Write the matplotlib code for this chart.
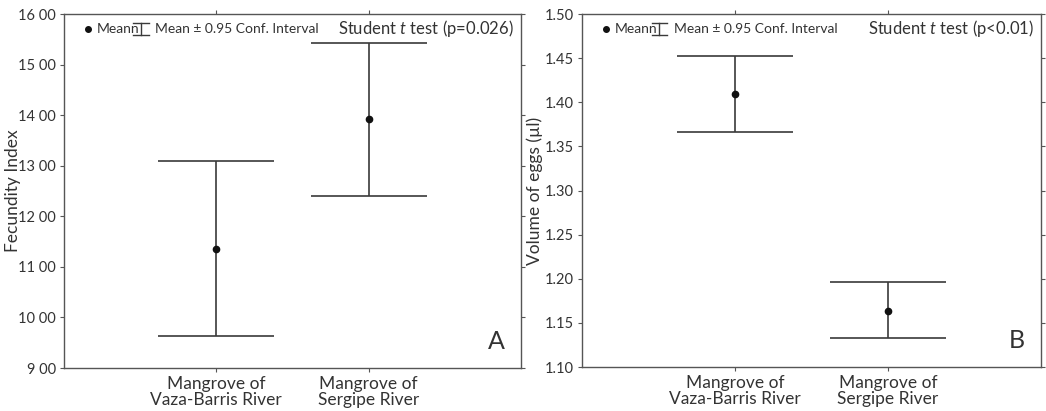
import numpy as np
import matplotlib
matplotlib.use("Agg")
import matplotlib.pyplot as plt

plt.rcParams['font.family'] = ['Lato', 'DejaVu Sans']
plt.rcParams['mathtext.fontset'] = 'custom'
plt.rcParams['mathtext.rm'] = 'Lato'
plt.rcParams['mathtext.it'] = 'Lato:italic'

categories = ['Mangrove of\nVaza-Barris River', 'Mangrove of\nSergipe River']

# panel A: fecundity index
fec_mean = [11.35, 13.92]
fec_upper = [13.09, 15.43]
fec_lower = [9.63, 12.40]
fec_ticks = [9, 10, 11, 12, 13, 14, 15, 16]
fec_ticklabels = ['9 00', '10 00', '11 00', '12 00', '13 00', '14 00', '15 00', '16 00']

# panel B: egg volume
vol_mean = [1.409, 1.164]
vol_upper = [1.452, 1.196]
vol_lower = [1.366, 1.133]
vol_ticks = [1.10, 1.15, 1.20, 1.25, 1.30, 1.35, 1.40, 1.45, 1.50]
vol_ticklabels = ['%.2f' % v for v in vol_ticks]

W, H = 1046, 411
fig = plt.figure(figsize=(W / 100, H / 100), dpi=100)
col = '#3a3a3a'
txt = '#333333'


def panel(rect, mean, lo, hi, ticks, ticklabels, ylabel, ylab_x, ptext, letter):
    l, b, r, t = rect
    ax = fig.add_axes([l / W, (H - b) / H, (r - l) / W, (b - t) / H])
    x = np.arange(1, len(categories) + 1)
    mean = np.array(mean)
    err = [mean - np.array(lo), np.array(hi) - mean]
    ax.errorbar(x, mean, yerr=err, fmt='o', color=col, ms=4.5, elinewidth=1.2,
                capsize=42, capthick=1.2, ecolor=col, mfc='#111111', mec='#111111')
    ax.set_xlim(0, 3)
    ax.set_ylim(ticks[0], ticks[-1])
    ax.set_yticks(ticks)
    ax.set_yticklabels(ticklabels, fontsize=10.5, color=txt)
    ax.set_xticks(x)
    ax.set_xticklabels(categories, fontsize=12.5, color=txt, linespacing=1.0)
    ax.set_ylabel(ylabel, fontsize=12.5, color=txt)
    ax.yaxis.set_label_coords(ylab_x, 0.5)
    ax.tick_params(axis='both', direction='out', length=3, width=0.8, color='#555555', pad=3)
    ax.tick_params(axis='y', right=True, labelright=False)
    ax.tick_params(axis='x', top=True)
    for s in ax.spines.values():
        s.set_color('#555555')
        s.set_linewidth(1.0)
    # legend drawn by hand
    tr = ax.transAxes
    ax.plot([0.052], [0.958], 'o', color='#111111', ms=4, transform=tr, clip_on=False)
    ax.text(0.072, 0.958, 'Meann', fontsize=10, color=txt, va='center', ha='left', transform=tr)
    x0, x1, xm = 0.152, 0.185, 0.168
    ax.plot([x0, x1], [0.975, 0.975], color=col, lw=1, transform=tr)
    ax.plot([x0, x1], [0.94, 0.94], color=col, lw=1, transform=tr)
    ax.plot([xm, xm], [0.94, 0.975], color=col, lw=1, transform=tr)
    ax.text(0.2, 0.958, 'Mean \u00b1 0.95 Conf. Interval', fontsize=10, color=txt,
            va='center', ha='left', transform=tr)
    ax.text(0.985, 0.96, ptext, fontsize=12, color=txt, va='center', ha='right', transform=tr)
    ax.text(0.965, 0.075, letter, fontsize=18, color=txt, va='center', ha='right', transform=tr)
    return ax


panel((64, 368, 521, 14), fec_mean, fec_lower, fec_upper, fec_ticks, fec_ticklabels,
      'Fecundity Index', -0.095, 'Student $t$ test (p=0.026)', 'A')
panel((582, 367, 1041, 14), vol_mean, vol_lower, vol_upper, vol_ticks, vol_ticklabels,
      'Volume of eggs (\u00b5l)', -0.086, 'Student $t$ test (p<0.01)', 'B')

fig.savefig('out.png', dpi=100)
